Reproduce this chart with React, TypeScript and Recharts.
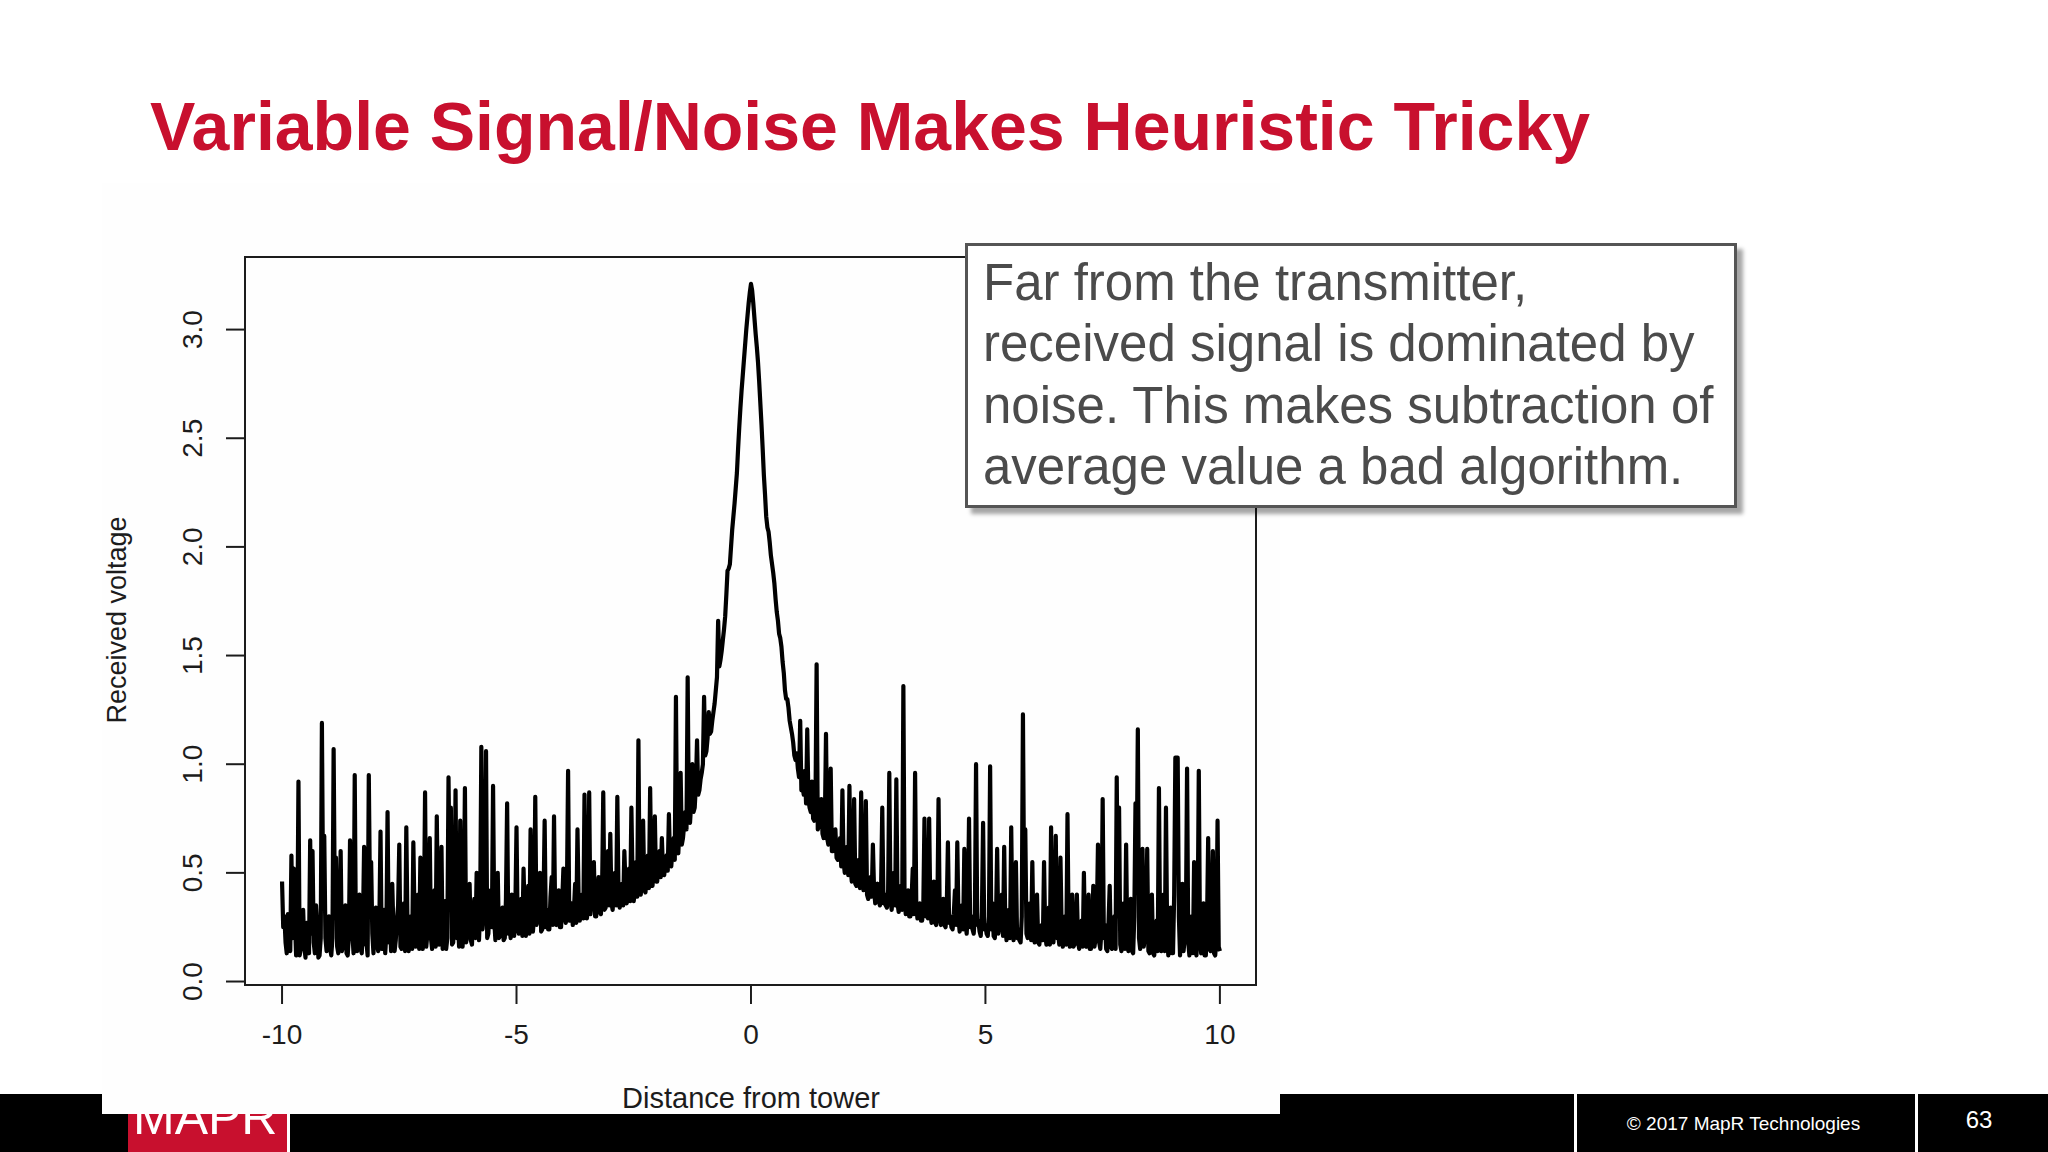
import { LineChart, Line, XAxis, YAxis, ReferenceArea } from "recharts";

// distance grid: -10 .. 10 in steps of 0.025
const xStart = -10;
const xStep = 0.025;

// received voltage, left to right
const farLeft = [
  0.46, 0.25, 0.3, 0.18, 0.13, 0.31, 0.22, 0.14, 0.58, 0.2, 0.52, 0.28, 0.12, 0.17, 0.92, 0.12, 0.15, 0.24, 0.33, 0.16,
  0.11, 0.27, 0.2, 0.13, 0.65, 0.22, 0.6, 0.18, 0.13, 0.35, 0.26, 0.11, 0.12, 0.2, 1.19, 0.4, 0.67, 0.2, 0.14, 0.24,
  0.3, 0.15, 0.12, 0.2, 1.07, 0.35, 0.57, 0.16, 0.13, 0.28, 0.6, 0.14, 0.16, 0.25, 0.35, 0.13, 0.12, 0.21, 0.65, 0.3,
  0.22, 0.13, 0.95, 0.2, 0.14, 0.31, 0.4, 0.15, 0.13, 0.26, 0.62, 0.17, 0.18, 0.12, 0.95, 0.38, 0.55, 0.22, 0.13, 0.29,
  0.34, 0.17, 0.14, 0.27, 0.69, 0.15, 0.2, 0.33, 0.13, 0.22, 0.78, 0.18, 0.3, 0.14, 0.45, 0.24, 0.14, 0.19, 0.28, 0.35,
  0.63, 0.16, 0.15, 0.29, 0.36, 0.14, 0.71, 0.25, 0.14, 0.21, 0.3, 0.15, 0.64, 0.3, 0.16, 0.26, 0.4, 0.15, 0.57, 0.2,
  0.15, 0.28, 0.87, 0.16, 0.22, 0.34, 0.66, 0.2, 0.15, 0.26, 0.42, 0.16, 0.76, 0.31, 0.17, 0.23, 0.62, 0.15, 0.25, 0.37,
  0.15, 0.2, 0.94, 0.45, 0.8, 0.17, 0.18, 0.3, 0.88, 0.2, 0.3, 0.16, 0.74, 0.22, 0.16, 0.33, 0.89, 0.18, 0.22, 0.35,
  0.45, 0.19, 0.17, 0.3, 0.38, 0.2, 0.5, 0.26, 0.19, 0.33, 1.08, 0.24, 0.3, 0.48, 1.06, 0.2, 0.22, 0.36, 0.42, 0.25,
  0.9, 0.28, 0.19, 0.32, 0.5, 0.2, 0.21, 0.3, 0.34, 0.19, 0.2, 0.38, 0.82, 0.22, 0.26, 0.2, 0.4, 0.29, 0.21, 0.33,
];
const nearLeft = [
  0.71, 0.24, 0.22, 0.34, 0.38, 0.21, 0.52, 0.3, 0.21, 0.27, 0.44, 0.22, 0.7, 0.35, 0.23, 0.3, 0.85, 0.26, 0.28, 0.4,
  0.5, 0.23, 0.24, 0.36, 0.74, 0.25, 0.33, 0.24, 0.24, 0.39, 0.48, 0.26, 0.76, 0.3, 0.26, 0.34, 0.42, 0.25, 0.25, 0.37,
  0.52, 0.3, 0.27, 0.41, 0.97, 0.28, 0.3, 0.36, 0.26, 0.33, 0.45, 0.27, 0.7, 0.38, 0.28, 0.35, 0.4, 0.29, 0.86, 0.4,
  0.29, 0.33, 0.87, 0.31, 0.36, 0.44, 0.55, 0.3, 0.3, 0.39, 0.48, 0.32, 0.31, 0.42, 0.87, 0.33, 0.34, 0.45, 0.6, 0.35,
  0.68, 0.36, 0.33, 0.42, 0.5, 0.35, 0.85, 0.4, 0.34, 0.38, 0.45, 0.35, 0.6, 0.44, 0.36, 0.41, 0.52, 0.37, 0.8, 0.46,
  0.37, 0.43, 0.55, 0.39, 1.11, 0.42, 0.4, 0.5, 0.74, 0.42, 0.41, 0.47, 0.58, 0.43, 0.89, 0.48, 0.44, 0.52, 0.76, 0.46,
  0.46, 0.52, 0.6, 0.48, 0.66, 0.5, 0.49, 0.55, 0.58, 0.51, 0.77, 0.54, 0.53, 0.6, 0.66, 0.56, 1.31, 0.62, 0.59, 0.7,
  0.96, 0.63, 0.66, 0.72, 0.78, 0.7, 1.4, 0.76, 0.73, 0.82, 1.0, 0.78, 0.8, 0.9, 1.11, 0.86, 0.88, 0.93, 0.96, 1.0,
  1.31, 1.04, 1.06, 1.12, 1.24, 1.14, 1.15, 1.2, 1.24, 1.28, 1.34, 1.4, 1.66, 1.45, 1.48, 1.52, 1.57, 1.62, 1.68, 1.78,
  1.89, 1.9, 1.92, 2.0, 2.08, 2.14, 2.2, 2.27, 2.34, 2.45, 2.55, 2.64, 2.72, 2.79, 2.86, 2.93, 3.0, 3.06, 3.12, 3.17,
];
const peak = [
  3.21, 3.18, 3.12, 3.05, 2.98, 2.92, 2.85, 2.76, 2.66, 2.56, 2.45, 2.33, 2.24, 2.14, 2.09, 2.07, 2.02, 1.96, 1.92, 1.88,
  1.83, 1.76, 1.7, 1.66, 1.6, 1.58, 1.54, 1.47, 1.42, 1.34, 1.3, 1.3, 1.26, 1.2, 1.17, 1.14, 1.1, 1.04, 1.02, 1.05,
];
const nearRight = [
  0.98, 0.94, 1.2, 0.88, 0.9, 0.86, 0.97, 0.82, 1.16, 0.84, 0.8, 0.78, 0.92, 0.75, 0.74, 0.8, 1.46, 0.7, 0.72, 0.76,
  0.84, 0.68, 0.66, 0.72, 1.14, 0.66, 0.63, 0.7, 0.98, 0.6, 0.6, 0.66, 0.7, 0.57, 0.56, 0.62, 0.66, 0.53, 0.88, 0.55,
  0.5, 0.56, 0.62, 0.49, 0.9, 0.52, 0.46, 0.5, 0.84, 0.45, 0.44, 0.52, 0.56, 0.43, 0.87, 0.47, 0.42, 0.46, 0.83, 0.4,
  0.38, 0.44, 0.48, 0.39, 0.63, 0.42, 0.36, 0.41, 0.45, 0.37, 0.35, 0.43, 0.8, 0.36, 0.4, 0.35, 0.34, 0.42, 0.96, 0.38,
  0.33, 0.4, 0.5, 0.35, 0.93, 0.36, 0.32, 0.38, 0.44, 0.33, 1.36, 0.4, 0.31, 0.36, 0.42, 0.3, 0.3, 0.38, 0.52, 0.31,
  0.96, 0.35, 0.29, 0.33, 0.36, 0.28, 0.28, 0.34, 0.75, 0.3, 0.4, 0.29, 0.75, 0.32, 0.27, 0.35, 0.46, 0.27, 0.26, 0.33,
  0.84, 0.3, 0.26, 0.32, 0.38, 0.26, 0.25, 0.34, 0.64, 0.27, 0.3, 0.25, 0.24, 0.31, 0.42, 0.26, 0.64, 0.29, 0.23, 0.3,
  0.35, 0.24, 0.61, 0.27, 0.22, 0.33, 0.75, 0.25, 0.3, 0.24, 0.22, 0.3, 1.0, 0.26, 0.28, 0.23, 0.21, 0.32, 0.73, 0.24,
];
const farRight = [
  0.26, 0.22, 0.21, 0.3, 0.99, 0.24, 0.36, 0.21, 0.2, 0.28, 0.61, 0.22, 0.25, 0.33, 0.4, 0.21, 0.62, 0.25, 0.19, 0.29,
  0.33, 0.2, 0.71, 0.26, 0.19, 0.31, 0.55, 0.2, 0.24, 0.19, 0.18, 0.3, 1.23, 0.4, 0.7, 0.22, 0.2, 0.28, 0.36, 0.19,
  0.55, 0.2, 0.18, 0.27, 0.4, 0.18, 0.17, 0.24, 0.26, 0.19, 0.55, 0.22, 0.17, 0.28, 0.34, 0.17, 0.71, 0.25, 0.18, 0.3,
  0.67, 0.2, 0.22, 0.17, 0.57, 0.24, 0.16, 0.22, 0.3, 0.17, 0.77, 0.21, 0.16, 0.27, 0.4, 0.16, 0.17, 0.26, 0.4, 0.18,
  0.15, 0.22, 0.28, 0.16, 0.5, 0.19, 0.16, 0.25, 0.4, 0.15, 0.15, 0.23, 0.44, 0.16, 0.2, 0.29, 0.63, 0.18, 0.15, 0.24,
  0.84, 0.2, 0.26, 0.15, 0.14, 0.27, 0.44, 0.16, 0.15, 0.22, 0.3, 0.15, 0.94, 0.3, 0.8, 0.17, 0.14, 0.25, 0.36, 0.15,
  0.63, 0.18, 0.14, 0.24, 0.38, 0.14, 0.13, 0.3, 0.82, 0.5, 1.16, 0.2, 0.15, 0.26, 0.61, 0.16, 0.2, 0.28, 0.61, 0.14,
  0.13, 0.22, 0.4, 0.13, 0.12, 0.19, 0.28, 0.14, 0.89, 0.2, 0.14, 0.25, 0.4, 0.14, 0.8, 0.22, 0.12, 0.2, 0.34, 0.13,
  0.13, 0.4, 1.03, 1.03, 1.03, 0.3, 0.12, 0.21, 0.45, 0.14, 0.2, 0.27, 0.98, 0.18, 0.12, 0.2, 0.3, 0.13, 0.55, 0.16,
  0.12, 0.24, 0.97, 0.2, 0.13, 0.22, 0.36, 0.12, 0.12, 0.26, 0.66, 0.15, 0.14, 0.3, 0.6, 0.13, 0.12, 0.2, 0.74, 0.16,
  0.14,
];

const xTicks = [-10, -5, 0, 5, 10];
const yTicks = [0, 0.5, 1, 1.5, 2, 2.5, 3];
const xDomain = [-10.79, 10.77];
const yDomain = [-0.016, 3.334];

const voltage = [...farLeft, ...nearLeft, ...peak, ...nearRight, ...farRight];
const data = voltage.map((v, i) => ({ x: +(xStart + i * xStep).toFixed(3), v }));

const FONT = "'Liberation Sans', Arial, sans-serif";
const INK = "#1c1c1c";

function XTick({ x, payload }: any) {
  return (
    <text x={x} y={1044} textAnchor="middle" fontSize={28} fontFamily={FONT} fill={INK}>
      {String(payload.value)}
    </text>
  );
}

function YTick({ y, payload }: any) {
  return (
    <text
      x={0}
      y={0}
      transform={`translate(202,${y}) rotate(-90)`}
      textAnchor="middle"
      fontSize={28}
      fontFamily={FONT}
      fill={INK}
    >
      {Number(payload.value).toFixed(1)}
    </text>
  );
}

const XTitle = () => (
  <text x={751} y={1108} textAnchor="middle" fontSize={29} fontFamily={FONT} fill={INK}>
    Distance from tower
  </text>
);

const YTitle = () => (
  <text
    x={0}
    y={0}
    transform="translate(126,620) rotate(-90)"
    textAnchor="middle"
    fontSize={27}
    fontFamily={FONT}
    fill={INK}
  >
    Received voltage
  </text>
);

export default function App() {
  return (
    <div
      style={{
        position: "fixed",
        left: 0,
        top: 0,
        width: 2048,
        height: 1152,
        background: "#fff",
        overflow: "hidden",
        fontFamily: FONT,
      }}
    >
      {/* footer bar */}
      <div style={{ position: "absolute", left: 0, top: 1094, width: 2048, height: 58, background: "#000" }} />
      <div style={{ position: "absolute", left: 128, top: 1094, width: 159, height: 58, background: "#c8102e" }} />
      <div
        style={{
          position: "absolute",
          left: 133,
          top: 1092,
          fontSize: 50,
          lineHeight: "50px",
          color: "#fff",
          whiteSpace: "nowrap",
        }}
      >
        MAPR
      </div>
      <div style={{ position: "absolute", left: 287, top: 1094, width: 3, height: 58, background: "#fff" }} />
      <div style={{ position: "absolute", left: 1574, top: 1094, width: 3, height: 58, background: "#fff" }} />
      <div style={{ position: "absolute", left: 1915, top: 1094, width: 3, height: 58, background: "#fff" }} />
      <div
        style={{
          position: "absolute",
          left: 1577,
          top: 1114,
          width: 333,
          textAlign: "center",
          fontSize: 19,
          lineHeight: "19px",
          color: "#fff",
          whiteSpace: "nowrap",
        }}
      >
        © 2017 MapR Technologies
      </div>
      <div
        style={{
          position: "absolute",
          left: 1918,
          top: 1108,
          width: 122,
          textAlign: "center",
          fontSize: 24,
          lineHeight: "24px",
          color: "#fff",
        }}
      >
        63
      </div>

      {/* pasted plot image background */}
      <div style={{ position: "absolute", left: 102, top: 183, width: 1178, height: 931, background: "#fefefe" }} />

      <div
        style={{
          position: "absolute",
          left: 150,
          top: 92,
          fontSize: 68,
          lineHeight: "68px",
          fontWeight: 700,
          color: "#c8102e",
          whiteSpace: "nowrap",
        }}
      >
        Variable Signal/Noise Makes Heuristic Tricky
      </div>

      <div style={{ position: "absolute", left: 0, top: 0 }}>
        <LineChart width={1300} height={1152} data={data} margin={{ top: 257, right: 44, left: 0, bottom: 0 }}>
          <XAxis
            dataKey="x"
            type="number"
            domain={xDomain}
            allowDataOverflow
            ticks={xTicks}
            interval={0}
            height={167}
            axisLine={false}
            tickSize={19}
            tickLine={{ stroke: INK, strokeWidth: 2 }}
            tick={<XTick />}
            label={<XTitle />}
          />
          <YAxis
            type="number"
            domain={yDomain}
            allowDataOverflow
            ticks={yTicks}
            interval={0}
            width={245}
            axisLine={false}
            tickSize={19}
            tickLine={{ stroke: INK, strokeWidth: 2 }}
            tick={<YTick />}
            label={<YTitle />}
          />
          <ReferenceArea
            x1={xDomain[0]}
            x2={xDomain[1]}
            y1={yDomain[0]}
            y2={yDomain[1]}
            fill="none"
            fillOpacity={0}
            stroke={INK}
            strokeWidth={2}
            ifOverflow="visible"
          />
          <Line
            type="linear"
            dataKey="v"
            stroke="#000"
            strokeWidth={4.2}
            strokeLinejoin="round"
            dot={false}
            isAnimationActive={false}
          />
        </LineChart>
      </div>

      {/* annotation box */}
      <div
        style={{
          position: "absolute",
          left: 965,
          top: 243,
          width: 772,
          height: 265,
          boxSizing: "border-box",
          border: "3px solid #555",
          background: "#fff",
          boxShadow: "6px 6px 4px rgba(0,0,0,0.35)",
          paddingLeft: 15,
          paddingTop: 6,
          fontSize: 51,
          lineHeight: "61.3px",
          color: "#4b4b4b",
          whiteSpace: "nowrap",
        }}
      >
        <div>Far from the transmitter,</div>
        <div>received signal is dominated by</div>
        <div>noise. This makes subtraction of</div>
        <div>average value a bad algorithm.</div>
      </div>
    </div>
  );
}
